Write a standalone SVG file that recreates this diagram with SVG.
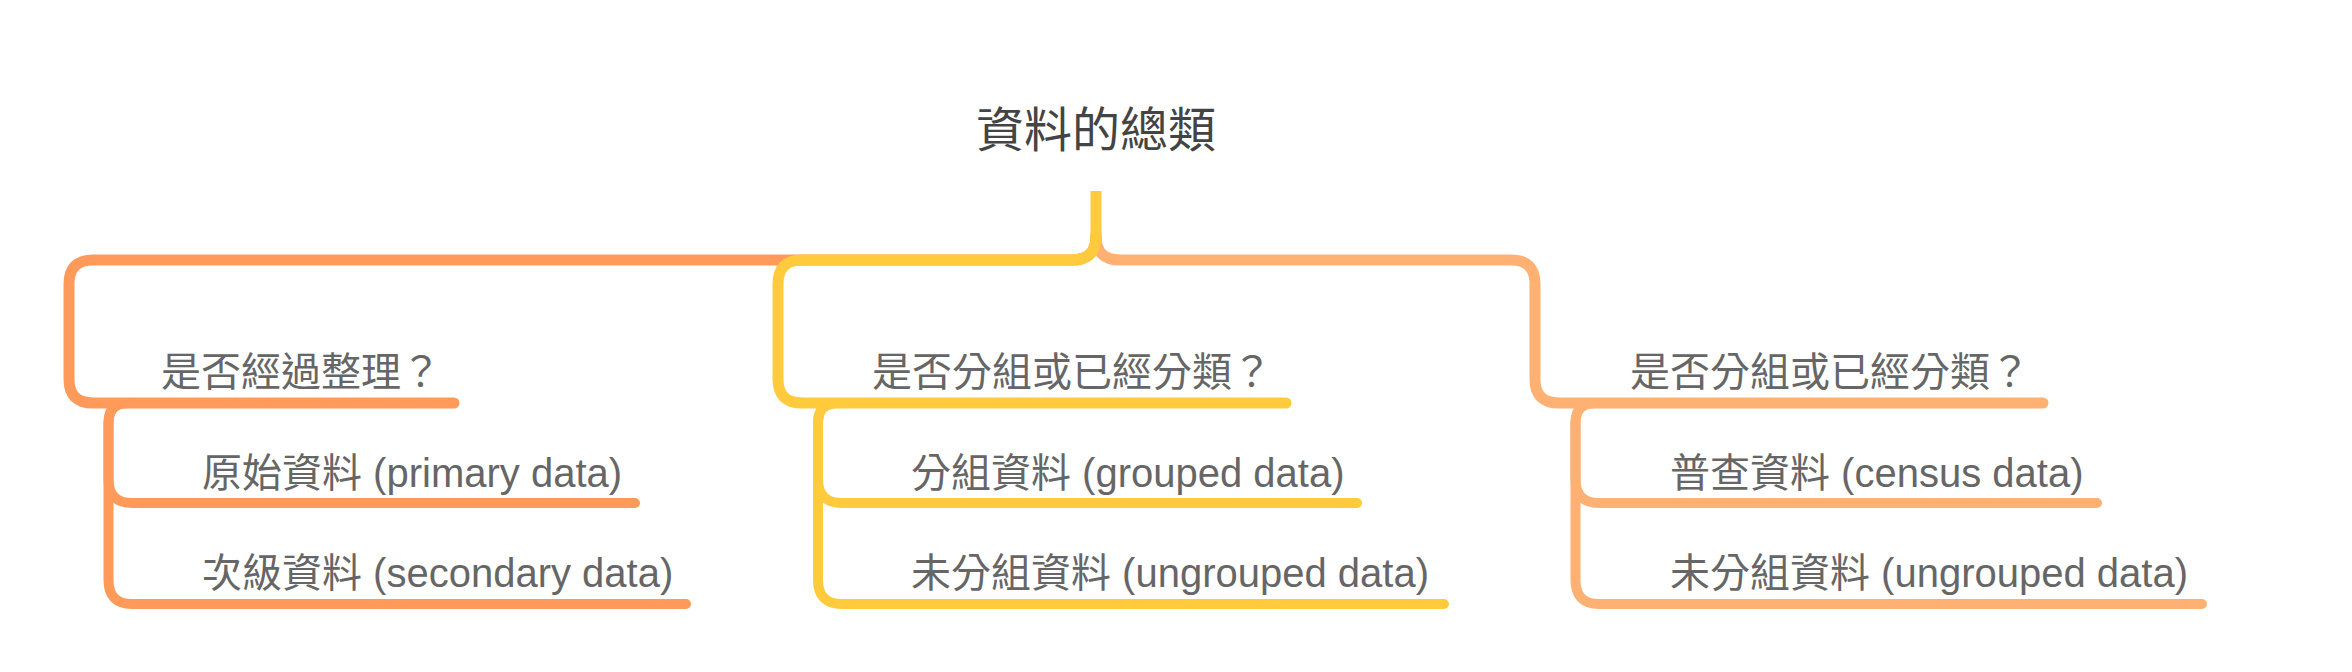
<svg xmlns="http://www.w3.org/2000/svg" width="2352" height="672" viewBox="0 0 2352 672">
<style>
.t{font-family:"Liberation Sans","Noto Sans CJK TC",sans-serif;font-size:40px;fill:#666666}
.title{font-family:"Liberation Sans","Noto Sans CJK TC",sans-serif;font-size:48px;fill:#444444}
.br{fill:none;stroke-width:11;stroke-linecap:round;stroke-linejoin:round}
.ch{fill:none;stroke-width:10;stroke-linecap:round;stroke-linejoin:round}
.o{stroke:#FF9A5B}
.y{stroke:#FFCB3C}
.p{stroke:#FFB174}
</style>
<rect width="2352" height="672" fill="#ffffff"/>
<g id="connectors">
<path class="br o" d="M1096 236 Q1096 260 1072 260 L93 260 Q69 260 69 284 L69 379 Q69 403 93 403 L454 403"/>
<path class="br p" d="M1096 236 Q1096 260 1120 260 L1511 260 Q1535 260 1535 284 L1535 379 Q1535 403 1559 403 L2043 403"/>
<path class="br y" d="M1096 236 Q1096 260 1072 260 L802 260 Q778 260 778 284 L778 379 Q778 403 802 403 L1286 403"/>
<path fill="none" stroke="#FFCB3C" stroke-width="11" d="M1096 191 L1096 240"/>
<path class="ch o" d="M128 403 Q108.5 403 108.5 423 L108.5 479 Q108.5 503 132 503 L635 503"/>
<path class="ch o" d="M128 403 Q108.5 403 108.5 423 L108.5 580 Q108.5 604 132 604 L686 604"/>
<path class="ch y" d="M838 403 Q818 403 818 423 L818 479 Q818 503 842 503 L1357 503"/>
<path class="ch y" d="M838 403 Q818 403 818 423 L818 580 Q818 604 842 604 L1444 604"/>
<path class="ch p" d="M1595 403 Q1575.5 403 1575.5 423 L1575.5 479 Q1575.5 503 1599 503 L2097 503"/>
<path class="ch p" d="M1595 403 Q1575.5 403 1575.5 423 L1575.5 580 Q1575.5 604 1599 604 L2202 604"/>
</g>
<g id="root"><text class="title" x="1096" y="147" text-anchor="middle">資料的總類</text></g>
<g id="n1"><text class="t" x="161" y="386">是否經過整理？</text></g>
<g id="n1a"><text class="t" x="202" y="487">原始資料 (primary data)</text></g>
<g id="n1b"><text class="t" x="202" y="587">次級資料 (secondary data)</text></g>
<g id="n2"><text class="t" x="872" y="386">是否分組或已經分類？</text></g>
<g id="n2a"><text class="t" x="911" y="487">分組資料 (grouped data)</text></g>
<g id="n2b"><text class="t" x="911" y="587">未分組資料 (ungrouped data)</text></g>
<g id="n3"><text class="t" x="1630" y="386">是否分組或已經分類？</text></g>
<g id="n3a"><text class="t" x="1670" y="487">普查資料 (census data)</text></g>
<g id="n3b"><text class="t" x="1670" y="587">未分組資料 (ungrouped data)</text></g>
</svg>
